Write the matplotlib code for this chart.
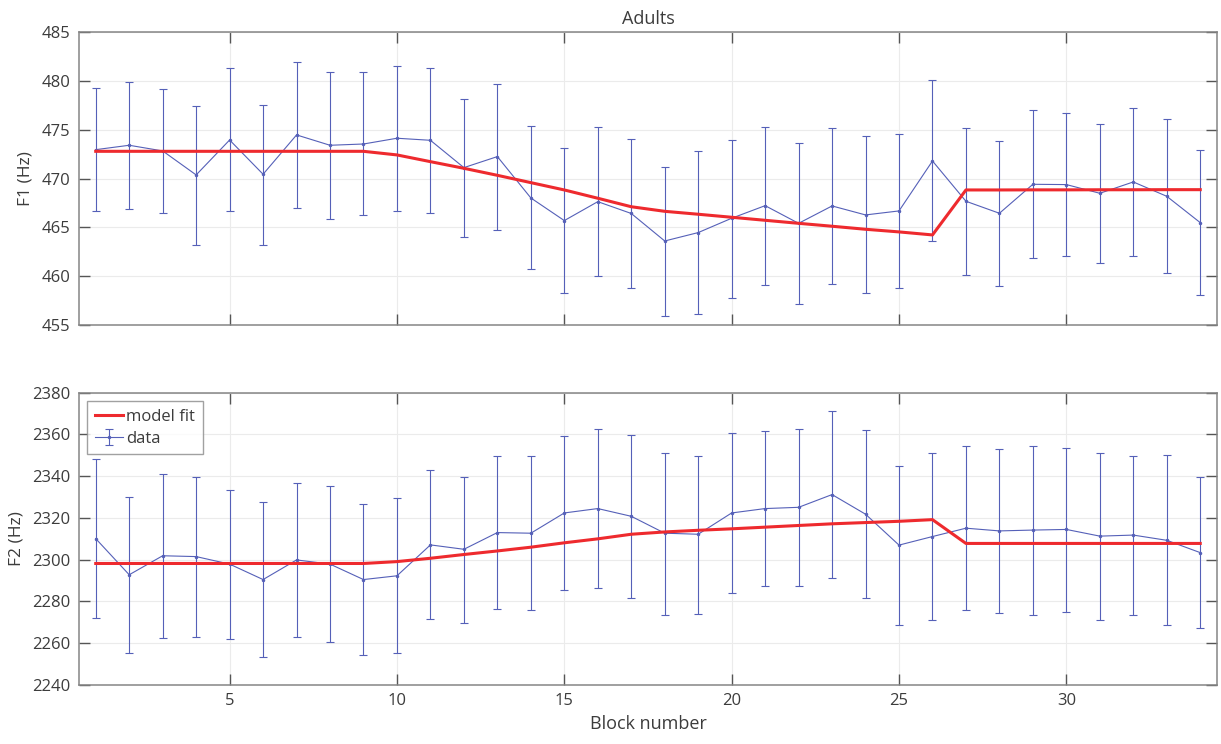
import matplotlib
matplotlib.use("Agg")
import matplotlib.pyplot as plt
import numpy as np

plt.rcParams['font.family'] = ['Open Sans', 'DejaVu Sans']

blocks = list(range(1, 35))

f1_mean = [472.97, 473.42, 472.84, 470.38, 473.96, 470.45, 474.48, 473.42, 473.55, 474.14,
           473.93, 471.13, 472.26, 468.02, 465.70, 467.64, 466.43, 463.61, 464.47, 465.94,
           467.23, 465.42, 467.20, 466.28, 466.69, 471.81, 467.68, 466.45, 469.42, 469.39,
           468.50, 469.66, 468.19, 465.49]
f1_upper = [479.33, 479.94, 479.23, 477.42, 481.34, 477.59, 481.96, 480.97, 480.90, 481.58,
            481.34, 478.17, 479.70, 475.37, 473.11, 475.26, 474.07, 471.23, 472.80, 473.96,
            475.33, 473.62, 475.16, 474.34, 474.55, 480.08, 475.19, 473.90, 477.00, 476.69,
            475.57, 477.21, 476.08, 472.91]
f1_lower = [466.65, 466.89, 466.48, 463.24, 466.65, 463.24, 467.00, 465.87, 466.24, 466.65,
            466.45, 463.99, 464.77, 460.71, 458.25, 460.06, 458.80, 455.93, 456.10, 457.74,
            459.10, 457.12, 459.24, 458.25, 458.83, 463.58, 460.13, 459.00, 461.84, 462.04,
            461.39, 462.11, 460.33, 458.04]
f1_fit = [472.80, 472.80, 472.80, 472.80, 472.80, 472.80, 472.80, 472.80, 472.80, 472.43,
          471.74, 471.06, 470.34, 469.59, 468.84, 467.99, 467.12, 466.65, 466.35, 466.04,
          465.73, 465.42, 465.12, 464.81, 464.54, 464.23, 468.84, 468.84, 468.85, 468.85,
          468.86, 468.86, 468.87, 468.87]

f2_mean = [2310.1, 2292.8, 2301.9, 2301.5, 2297.9, 2290.5, 2299.9, 2297.9, 2290.5, 2292.3,
           2307.1, 2305.0, 2313.0, 2312.7, 2322.4, 2324.5, 2320.8, 2312.7, 2312.2, 2322.4,
           2324.5, 2325.1, 2331.2, 2321.8, 2307.0, 2311.1, 2315.1, 2313.8, 2314.2, 2314.5,
           2311.3, 2311.8, 2309.3, 2303.4]
f2_upper = [2348.1, 2330.2, 2341.1, 2339.8, 2333.6, 2327.5, 2336.8, 2335.5, 2326.6, 2329.4,
            2342.8, 2339.8, 2349.5, 2349.5, 2359.1, 2362.6, 2359.7, 2351.0, 2349.8, 2360.5,
            2361.7, 2362.8, 2371.2, 2361.9, 2345.1, 2351.3, 2354.5, 2352.9, 2354.3, 2353.7,
            2351.3, 2349.7, 2350.0, 2339.8]
f2_lower = [2272.2, 2255.3, 2262.6, 2262.9, 2261.8, 2253.4, 2262.9, 2260.7, 2254.5, 2255.3,
            2271.4, 2269.9, 2276.5, 2275.9, 2285.7, 2286.4, 2281.8, 2273.6, 2274.1, 2284.0,
            2287.5, 2287.5, 2291.3, 2281.6, 2268.7, 2270.9, 2275.7, 2274.7, 2273.6, 2275.2,
            2271.2, 2273.5, 2268.7, 2267.1]
f2_fit = [2298.2, 2298.2, 2298.2, 2298.2, 2298.2, 2298.2, 2298.2, 2298.2, 2298.2, 2299.1,
          2300.7, 2302.5, 2304.2, 2306.0, 2308.1, 2310.0, 2312.2, 2313.3, 2314.1, 2314.8,
          2315.6, 2316.4, 2317.2, 2317.8, 2318.4, 2319.2, 2307.8, 2307.8, 2307.8, 2307.8,
          2307.8, 2307.8, 2307.8, 2307.8]

title = "Adults"
xlabel = "Block number"
ylabels = ["F1 (Hz)", "F2 (Hz)"]
legend_labels = ["model fit", "data"]
xticks = [5, 10, 15, 20, 25, 30]
yticks_f1 = [455, 460, 465, 470, 475, 480, 485]
yticks_f2 = [2240, 2260, 2280, 2300, 2320, 2340, 2360, 2380]

TXT = '#3c3c3c'
BLUE = '#5560b8'
RED = '#ee2a2e'

fig = plt.figure(figsize=(12.21, 7.44), dpi=100)
ax1 = fig.add_axes([0.0647, 0.5632, 0.932, 0.3934])
ax2 = fig.add_axes([0.0647, 0.0793, 0.932, 0.3929])


def draw(ax, mean, lower, upper, fit, yticks, ylab):
    m = np.array(mean)
    yerr = [m - np.array(lower), np.array(upper) - m]
    ax.plot(blocks, fit, color=RED, lw=2.2, zorder=4, label=legend_labels[0])
    ax.errorbar(blocks, mean, yerr=yerr, color=BLUE, lw=0.8, elinewidth=0.8,
                capsize=3, capthick=0.8, marker='.', markersize=3, zorder=3,
                label=legend_labels[1])
    ax.set_xlim(0.5, 34.5)
    ax.set_ylim(yticks[0], yticks[-1])
    ax.set_xticks(xticks)
    ax.set_yticks(yticks)
    ax.grid(True, color='#ebebeb', lw=0.8, zorder=0)
    ax.set_axisbelow(True)
    for s in ax.spines.values():
        s.set_color('#858585')
        s.set_linewidth(1.1)
    ax.tick_params(direction='in', length=8, width=1, color='#555555',
                   top=True, right=True, labelsize=12, labelcolor=TXT, pad=6)
    ax.set_ylabel(ylab, fontsize=12.5, color=TXT, labelpad=6)


draw(ax1, f1_mean, f1_lower, f1_upper, f1_fit, yticks_f1, ylabels[0])
draw(ax2, f2_mean, f2_lower, f2_upper, f2_fit, yticks_f2, ylabels[1])

ax1.tick_params(labelbottom=False)
ax1.set_title(title, fontsize=13, color=TXT, pad=6)
ax2.set_xlabel(xlabel, fontsize=13, color=TXT, labelpad=4)

leg = ax2.legend(loc='upper left', fontsize=12, frameon=True, fancybox=False,
                 borderpad=0.45, handlelength=1.7, handletextpad=0.2,
                 labelspacing=0.38, borderaxespad=0.5)
leg.get_frame().set_edgecolor('#8a8a8a')
leg.get_frame().set_linewidth(1.0)
for t in leg.get_texts():
    t.set_color(TXT)

fig.savefig('out.png', dpi=100)
